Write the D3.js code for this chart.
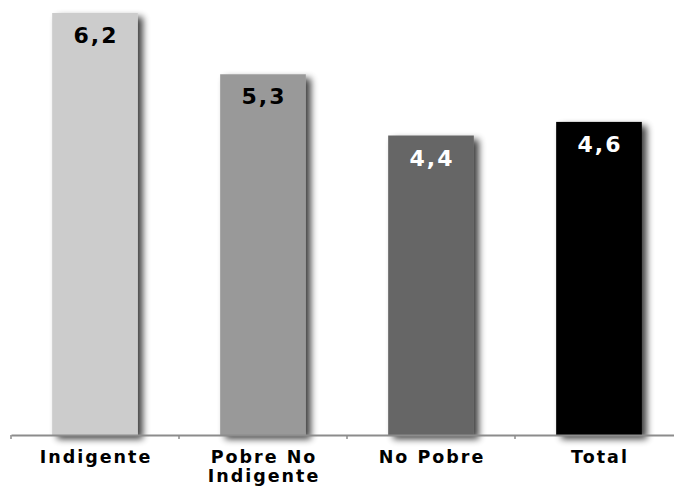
<!DOCTYPE html>
<html>
<head>
<meta charset="utf-8">
<script src="https://cdn.jsdelivr.net/npm/d3@7"></script>
<style>
  html, body { margin: 0; padding: 0; background: #fff; }
  svg { display: block; }
  text { font-family: "DejaVu Sans", Verdana, sans-serif; font-weight: bold; }
</style>
</head>
<body>
<svg id="chart" width="674" height="486"></svg>
<script>
// Categories, values and bar fills
const categories = ["Indigente", "Pobre No Indigente", "No Pobre", "Total"];
const categoryLines = [["Indigente"], ["Pobre No", "Indigente"], ["No Pobre"], ["Total"]];
const values = [6.2, 5.3, 4.4, 4.6];
const valueLabels = ["6,2", "5,3", "4,4", "4,6"];
const fills = ["#cccccc", "#999999", "#666666", "#000000"];
const labelColors = ["#000000", "#000000", "#ffffff", "#ffffff"];

const svg = d3.select("#chart");
const baseY = 435;

const x = d3.scaleBand().domain(categories).range([11, 683]).paddingInner(0.49).paddingOuter(0.245);
const y = d3.scaleLinear().domain([0, 6.2]).range([baseY, 13]);

// soft drop shadow behind each bar
const defs = svg.append("defs");
const f = defs.append("filter").attr("id", "shadow")
  .attr("x", "-20%").attr("y", "-10%").attr("width", "150%").attr("height", "130%");
f.append("feGaussianBlur").attr("in", "SourceAlpha").attr("stdDeviation", 3.5).attr("result", "b");
f.append("feOffset").attr("in", "b").attr("dx", 5).attr("dy", 4).attr("result", "o");
f.append("feComponentTransfer").attr("in", "o").attr("result", "s")
  .append("feFuncA").attr("type", "linear").attr("slope", 0.75);
const m = f.append("feMerge");
m.append("feMergeNode").attr("in", "s");
m.append("feMergeNode").attr("in", "SourceGraphic");

svg.append("g").selectAll("rect")
  .data(values)
  .join("rect")
  .attr("x", (d, i) => x(categories[i]))
  .attr("y", d => y(d))
  .attr("width", x.bandwidth())
  .attr("height", d => baseY - y(d))
  .attr("fill", (d, i) => fills[i])
  .attr("filter", "url(#shadow)");

// axis line with tick marks between categories
const axis = d3.axisBottom(x).tickSize(0).tickFormat("");
const gx = svg.append("g").attr("transform", `translate(0,${baseY})`).call(axis);
gx.select(".domain").attr("stroke", "#8c8c8c").attr("stroke-width", 2);
const step = x.step();
const tickXs = d3.range(categories.length + 1).map(i => 11 + i * step);
gx.selectAll(".sep").data(tickXs).join("line")
  .attr("class", "sep")
  .attr("x1", d => d).attr("x2", d => d)
  .attr("y1", 0).attr("y2", 4)
  .attr("stroke", "#8c8c8c").attr("stroke-width", 1.5);

// category labels
svg.append("g").selectAll("text")
  .data(categoryLines)
  .join("text")
  .attr("text-anchor", "middle")
  .attr("font-size", 17.5)
  .attr("letter-spacing", 2)
  .attr("fill", "#000")
  .each(function (lines, i) {
    const cx = x(categories[i]) + x.bandwidth() / 2;
    d3.select(this).selectAll("tspan").data(lines).join("tspan")
      .attr("x", cx + 1)
      .attr("y", (d, j) => 463 + j * 19)
      .text(d => d);
  });

// value labels inside bars
svg.append("g").selectAll("text")
  .data(values)
  .join("text")
  .attr("text-anchor", "middle")
  .attr("x", (d, i) => x(categories[i]) + x.bandwidth() / 2 + 1)
  .attr("y", d => y(d) + 30)
  .attr("font-size", 22)
  .attr("letter-spacing", 2)
  .attr("fill", (d, i) => labelColors[i])
  .text((d, i) => valueLabels[i]);
</script>
</body>
</html>
